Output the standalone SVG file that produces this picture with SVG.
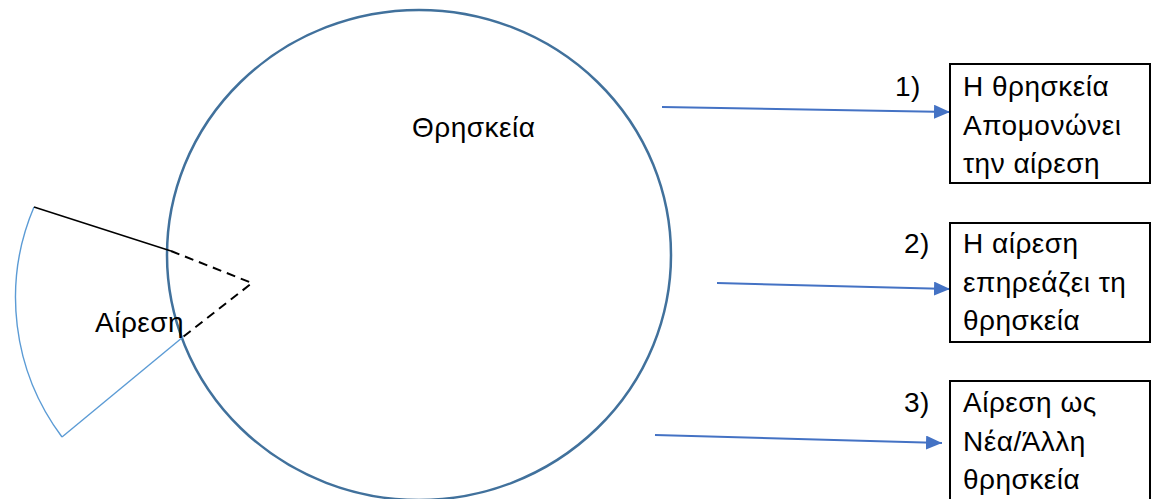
<svg xmlns="http://www.w3.org/2000/svg" width="1153" height="499" viewBox="0 0 1153 499">
<defs>
<style>
.t{font-family:"Liberation Sans","Noto Sans",sans-serif;font-size:28px;letter-spacing:0.5px;fill:#000}
.box{fill:#fff;stroke:#000;stroke-width:2}
.dash{stroke:#000;stroke-width:2;stroke-dasharray:9 6;fill:none}
.arr{stroke:#4472C4;stroke-width:2;fill:none}
</style>
<marker id="ahb" viewBox="0 0 16 14" refX="16" refY="7" markerWidth="16" markerHeight="14" orient="auto" markerUnits="userSpaceOnUse">
<path d="M0,0 L16,7 L0,14 Z" fill="#4472C4"/>
</marker>
</defs>
<rect width="1153" height="499" fill="#fff"/>
<g id="religion">
<ellipse cx="419" cy="255" rx="252" ry="245" fill="none" stroke="#41719C" stroke-width="2.5"/>
<text class="t" x="412" y="137">Θρησκεία</text>
</g>
<g id="heresy">
<path d="M34,207 A232 232 0 0 0 62,437" fill="none" stroke="#5B9BD5" stroke-width="1.4"/>
<line x1="34" y1="207" x2="171" y2="251" stroke="#000" stroke-width="1.5"/>
<line x1="62" y1="437" x2="183" y2="337" stroke="#5B9BD5" stroke-width="1.4"/>
<path class="dash" d="M171,251 L252,283 L183,337"/>
<text class="t" x="95" y="332">Αίρεση</text>
</g>
<g id="connectors">
<line class="arr" x1="662" y1="107" x2="950" y2="112" marker-end="url(#ahb)"/>
<line class="arr" x1="717" y1="283" x2="950" y2="289" marker-end="url(#ahb)"/>
<line class="arr" x1="655" y1="435" x2="942" y2="443" marker-end="url(#ahb)"/>
</g>
<g id="box1">
<text class="t" x="895" y="96">1)</text>
<rect class="box" x="950" y="64" width="200" height="119"/>
<text class="t" x="963" y="96">Η θρησκεία</text>
<text class="t" x="963" y="134.5">Απομονώνει</text>
<text class="t" x="963" y="173">την αίρεση</text>
</g>
<g id="box2">
<text class="t" x="904" y="253">2)</text>
<rect class="box" x="950" y="223" width="200" height="119"/>
<text class="t" x="963" y="253">Η αίρεση</text>
<text class="t" x="963" y="291.5">επηρεάζει τη</text>
<text class="t" x="963" y="330">θρησκεία</text>
</g>
<g id="box3">
<text class="t" x="904" y="412">3)</text>
<rect class="box" x="950" y="381" width="200" height="125"/>
<text class="t" x="963" y="412">Αίρεση ως</text>
<text class="t" x="963" y="450.5">Νέα/Άλλη</text>
<text class="t" x="963" y="489">θρησκεία</text>
</g>
</svg>
